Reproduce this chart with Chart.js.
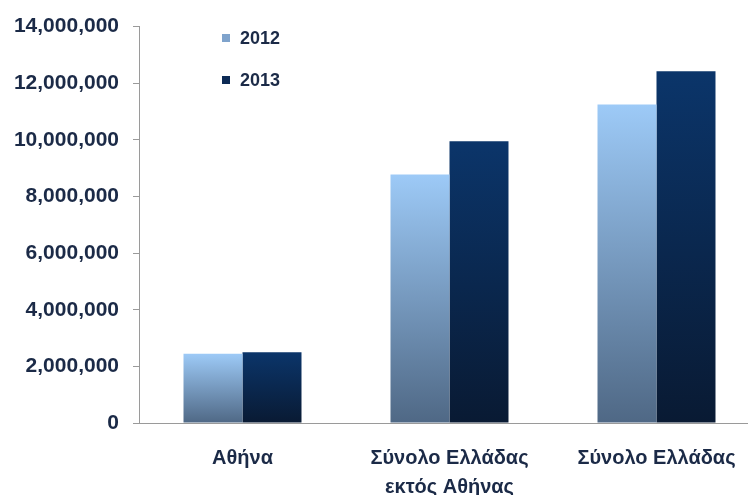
<!DOCTYPE html>
<html>
<head>
<meta charset="utf-8">
<script src="https://cdn.jsdelivr.net/npm/chart.js@4.4.1/dist/chart.umd.min.js"></script>
<style>
  html, body { margin: 0; padding: 0; overflow: hidden; background: #ffffff; }
  #wrap { width: 760px; height: 495px; }
</style>
</head>
<body>
<div id="wrap"><canvas id="c" width="760" height="495"></canvas></div>
<script>
const categories = ["Αθήνα", ["Σύνολο Ελλάδας", "εκτός Αθήνας"], "Σύνολο Ελλάδας"];
const seriesLabels = ["2012", "2013"];
const values2012 = [2450000, 8780000, 11250000];
const values2013 = [2500000, 9950000, 12420000];

const textColor = "#1b2a47";
const fontFamily = "'Liberation Sans', Arial, sans-serif";

// vertical gradient for each bar, from its top down to the baseline
function barGradient(topColor, bottomColor) {
  return function (ctx) {
    const chart = ctx.chart;
    const area = chart.chartArea;
    if (!area || ctx.type !== "data") return topColor;
    const y = chart.scales.y;
    const top = y.getPixelForValue(ctx.raw);
    const base = y.getPixelForValue(0);
    const g = chart.ctx.createLinearGradient(0, top, 0, base);
    g.addColorStop(0, topColor);
    g.addColorStop(1, bottomColor);
    return g;
  };
}

// two-row legend in the upper left of the plot
const legendPlugin = {
  id: "sideLegend",
  afterDraw(chart) {
    const c = chart.ctx;
    const x = 222, rows = [38, 80];
    c.save();
    chart.data.datasets.forEach((ds, i) => {
      c.fillStyle = ds.legendColor;
      c.fillRect(x, rows[i] - 4, 8, 8);
      c.fillStyle = textColor;
      c.font = "bold 18px " + fontFamily;
      c.textBaseline = "middle";
      c.fillText(ds.label, x + 18, rows[i] + 1);
    });
    c.restore();
  }
};

new Chart(document.getElementById("c"), {
  type: "bar",
  data: {
    labels: categories,
    datasets: [
      {
        label: seriesLabels[0],
        data: values2012,
        backgroundColor: barGradient("#9dcaf7", "#4f6885"),
        legendColor: "#7fa3cc"
      },
      {
        label: seriesLabels[1],
        data: values2013,
        backgroundColor: barGradient("#0b356a", "#091a33"),
        legendColor: "#0c2a55"
      }
    ]
  },
  options: {
    responsive: false,
    animation: false,
    devicePixelRatio: 1,
    layout: { padding: { top: 17, right: 0, left: 0, bottom: 0 } },
    datasets: { bar: { categoryPercentage: 0.57, barPercentage: 1.0 } },
    plugins: { legend: { display: false }, tooltip: { enabled: false } },
    scales: {
      x: {
        grid: { display: false, drawTicks: false },
        border: { display: true, color: "#9a9a9a", dash: [2, 2], width: 1 },
        ticks: {
          color: textColor,
          font: { family: fontFamily, size: 20, weight: "bold", lineHeight: 1.45 },
          padding: 21,
          maxRotation: 0,
          autoSkip: false
        },
        afterFit(scale) { scale.height = 72; }
      },
      y: {
        min: 0,
        max: 14000000,
        grid: { drawOnChartArea: false, drawTicks: true, tickLength: 6, color: "#9a9a9a" },
        border: { display: true, color: "#9a9a9a", dash: [2, 2], width: 1 },
        ticks: {
          stepSize: 2000000,
          color: textColor,
          font: { family: fontFamily, size: 21, weight: "bold" },
          padding: 14,
          callback: v => v.toLocaleString("en-US")
        },
        afterFit(scale) { scale.width = 139; }
      }
    }
  },
  plugins: [legendPlugin]
});
</script>
</body>
</html>
